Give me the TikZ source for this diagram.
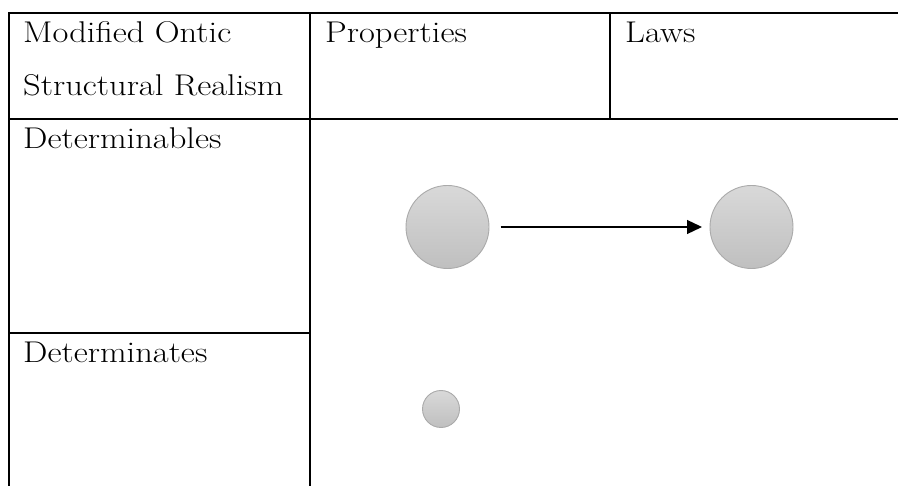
\documentclass[tikz,border=0pt]{standalone}
\usetikzlibrary{arrows.meta}
\tikzset{
 rule/.style={line width=1.8pt},
 celltext/.style={anchor=base west,inner sep=0,font=\fontsize{30}{36}\selectfont,xscale=1.15,transform shape},
 bigblob/.style={circle,draw=gray!67,line width=.9pt,top color=gray!30,bottom color=gray!50,minimum size=83pt,inner sep=0,outer sep=0},
 smallblob/.style={bigblob,minimum size=37pt},
 lawarrow/.style={line width=1.3pt,-{Triangle[length=15pt,width=14pt]}}
}
\begin{document}
\begin{tikzpicture}[x=1pt,y=-1pt]
\path[use as bounding box] (0,0) rectangle (898,486);
% grid of the table
\coordinate (TL) at (9,13);
\coordinate (TR) at (898,13);
\draw[rule] (9,486) -- (TL) -- (TR);
\draw[rule] (9,119) -- (898,119);
\draw[rule] (310,13) -- (310,486);
\draw[rule] (610,13) -- (610,119);
\draw[rule] (9,333) -- (310,333);
% headings
\node[celltext] (ontic) at (23,43) {Modified Ontic};
\node[celltext] (realism) at (23,96) {Structural Realism};
\node[celltext] (props) at (325,43) {Properties};
\node[celltext] (laws) at (625,43) {Laws};
\node[celltext] (dables) at (23,149) {Determinables};
\node[celltext] (dates) at (23,363) {Determinates};
% properties and law
\node[bigblob] (propA) at (447.5,227) {};
\node[bigblob] (propB) at (751.5,227) {};
\node[smallblob] (propC) at (441,409) {};
\draw[lawarrow,shorten <=11.5pt,shorten >=8pt] (propA) -- (propB);
\end{tikzpicture}
\end{document}
